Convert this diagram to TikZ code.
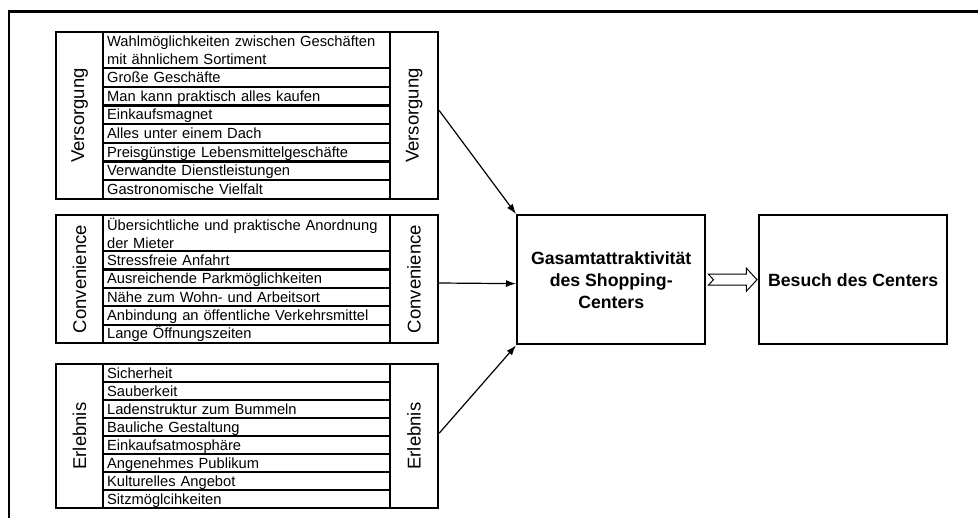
\documentclass[tikz,border=0pt]{standalone}
\usepackage{fontspec}
\setmainfont{Liberation Sans}
\usetikzlibrary{arrows.meta,calc}
\begin{document}
\begin{tikzpicture}[x=1pt,y=-1pt,
  frameline/.style={line width=2.4pt},
  colbox/.style={draw,line width=2.2pt,anchor=north west,inner sep=0pt},
  itembox/.style={draw,line width=2.2pt,anchor=north west,inner xsep=4pt,inner ysep=0pt,
    minimum width=287pt,text width=279pt,align=left,
    font=\fontsize{14.7}{18}\selectfont},
  oneline/.style={text height=13pt,text depth=3pt},
  grouplabel/.style={rotate=90,font=\fontsize{18.5}{20}\selectfont},
  bigbox/.style={draw,line width=2.4pt,anchor=north west,minimum width=188pt,minimum height=129pt,
    align=center,font=\fontsize{17.7}{22}\selectfont\bfseries},
  arr/.style={line width=1.2pt,-{Latex[length=10pt,width=7pt]}},
  hollow/.style={draw,line width=1pt,fill=white}
]
\useasboundingbox (0,0) rectangle (978,518);
\draw[frameline] (9,518) -- (9,11.5) -- (978,11.5);

% ---------- Versorgung ----------
\node[colbox,minimum width=47pt,minimum height=167pt] (vL) at (55,31) {};
\node[grouplabel] at (vL) {Versorgung};
\node[colbox,minimum width=48pt,minimum height=167pt] (vR) at (389,31) {};
\node[grouplabel] at (vR) {Versorgung};
\node[itembox,minimum height=36pt] (v1) at (102,31) {Wahlmöglichkeiten zwischen Geschäften\\mit ähnlichem Sortiment};
\node[itembox,oneline,minimum height=18.7pt] (v2) at (102,67) {Große Geschäfte};
\node[itembox,oneline,minimum height=18.7pt] (v3) at (102,85.7) {Man kann praktisch alles kaufen};
\node[itembox,oneline,minimum height=18.7pt] (v4) at (102,104.4) {Einkaufsmagnet};
\node[itembox,oneline,minimum height=18.7pt] (v5) at (102,123.1) {Alles unter einem Dach};
\node[itembox,oneline,minimum height=18.7pt] (v6) at (102,141.8) {Preisgünstige Lebensmittelgeschäfte};
\node[itembox,oneline,minimum height=18.7pt] (v7) at (102,160.5) {Verwandte Dienstleistungen};
\node[itembox,oneline,minimum height=18.7pt] (v8) at (102,179.2) {Gastronomische Vielfalt};

% ---------- Convenience ----------
\node[colbox,minimum width=47pt,minimum height=128pt] (cL) at (55,214) {};
\node[grouplabel] at (cL) {Convenience};
\node[colbox,minimum width=48pt,minimum height=128pt] (cR) at (389,214) {};
\node[grouplabel] at (cR) {Convenience};
\node[itembox,minimum height=36pt] (c1) at (102,214) {Übersichtliche und praktische Anordnung\\der Mieter};
\node[itembox,oneline,minimum height=18.4pt] (c2) at (102,250) {Stressfreie Anfahrt};
\node[itembox,oneline,minimum height=18.4pt] (c3) at (102,268.4) {Ausreichende Parkmöglichkeiten};
\node[itembox,oneline,minimum height=18.4pt] (c4) at (102,286.8) {Nähe zum Wohn- und Arbeitsort};
\node[itembox,oneline,minimum height=18.4pt] (c5) at (102,305.2) {Anbindung an öffentliche Verkehrsmittel};
\node[itembox,oneline,minimum height=18.4pt] (c6) at (102,323.6) {Lange Öffnungszeiten};

% ---------- Erlebnis ----------
\node[colbox,minimum width=47pt,minimum height=144pt] (eL) at (55,363) {};
\node[grouplabel] at (eL) {Erlebnis};
\node[colbox,minimum width=48pt,minimum height=144pt] (eR) at (389,363) {};
\node[grouplabel] at (eR) {Erlebnis};
\node[itembox,oneline,minimum height=18pt] (e1) at (102,363) {Sicherheit};
\node[itembox,oneline,minimum height=18pt] (e2) at (102,381) {Sauberkeit};
\node[itembox,oneline,minimum height=18pt] (e3) at (102,399) {Ladenstruktur zum Bummeln};
\node[itembox,oneline,minimum height=18pt] (e4) at (102,417) {Bauliche Gestaltung};
\node[itembox,oneline,minimum height=18pt] (e5) at (102,435) {Einkaufsatmosphäre};
\node[itembox,oneline,minimum height=18pt] (e6) at (102,453) {Angenehmes Publikum};
\node[itembox,oneline,minimum height=18pt] (e7) at (102,471) {Kulturelles Angebot};
\node[itembox,oneline,minimum height=18pt] (e8) at (102,489) {Sitzmöglcihkeiten};

% ---------- right part ----------
\node[bigbox] (gs) at (516,214) {Gasamtattraktivität\\des Shopping-\\Centers};
\node[bigbox] (bc) at (758,214) {Besuch des Centers};

\draw[arr] ($(vR.north east)!0.47!(vR.south east)$) -- (gs.north west);
\draw[arr] ($(cR.north east)!0.53!(cR.south east)$) -- ($(gs.north west)!0.53!(gs.south west)$);
\draw[arr] ($(eR.north east)!0.48!(eR.south east)$) -- (gs.south west);

\draw[hollow] ($(gs.east)+(2,-5.5)$) -- ($(gs.east)+(40,-5.5)$) -- ($(gs.east)+(40,-11.5)$)
  -- ($(bc.west)+(-1,0)$) -- ($(gs.east)+(40,11.5)$) -- ($(gs.east)+(40,5.5)$)
  -- ($(gs.east)+(2,5.5)$) -- ($(gs.east)+(7,0)$) -- cycle;
\end{tikzpicture}
\end{document}
